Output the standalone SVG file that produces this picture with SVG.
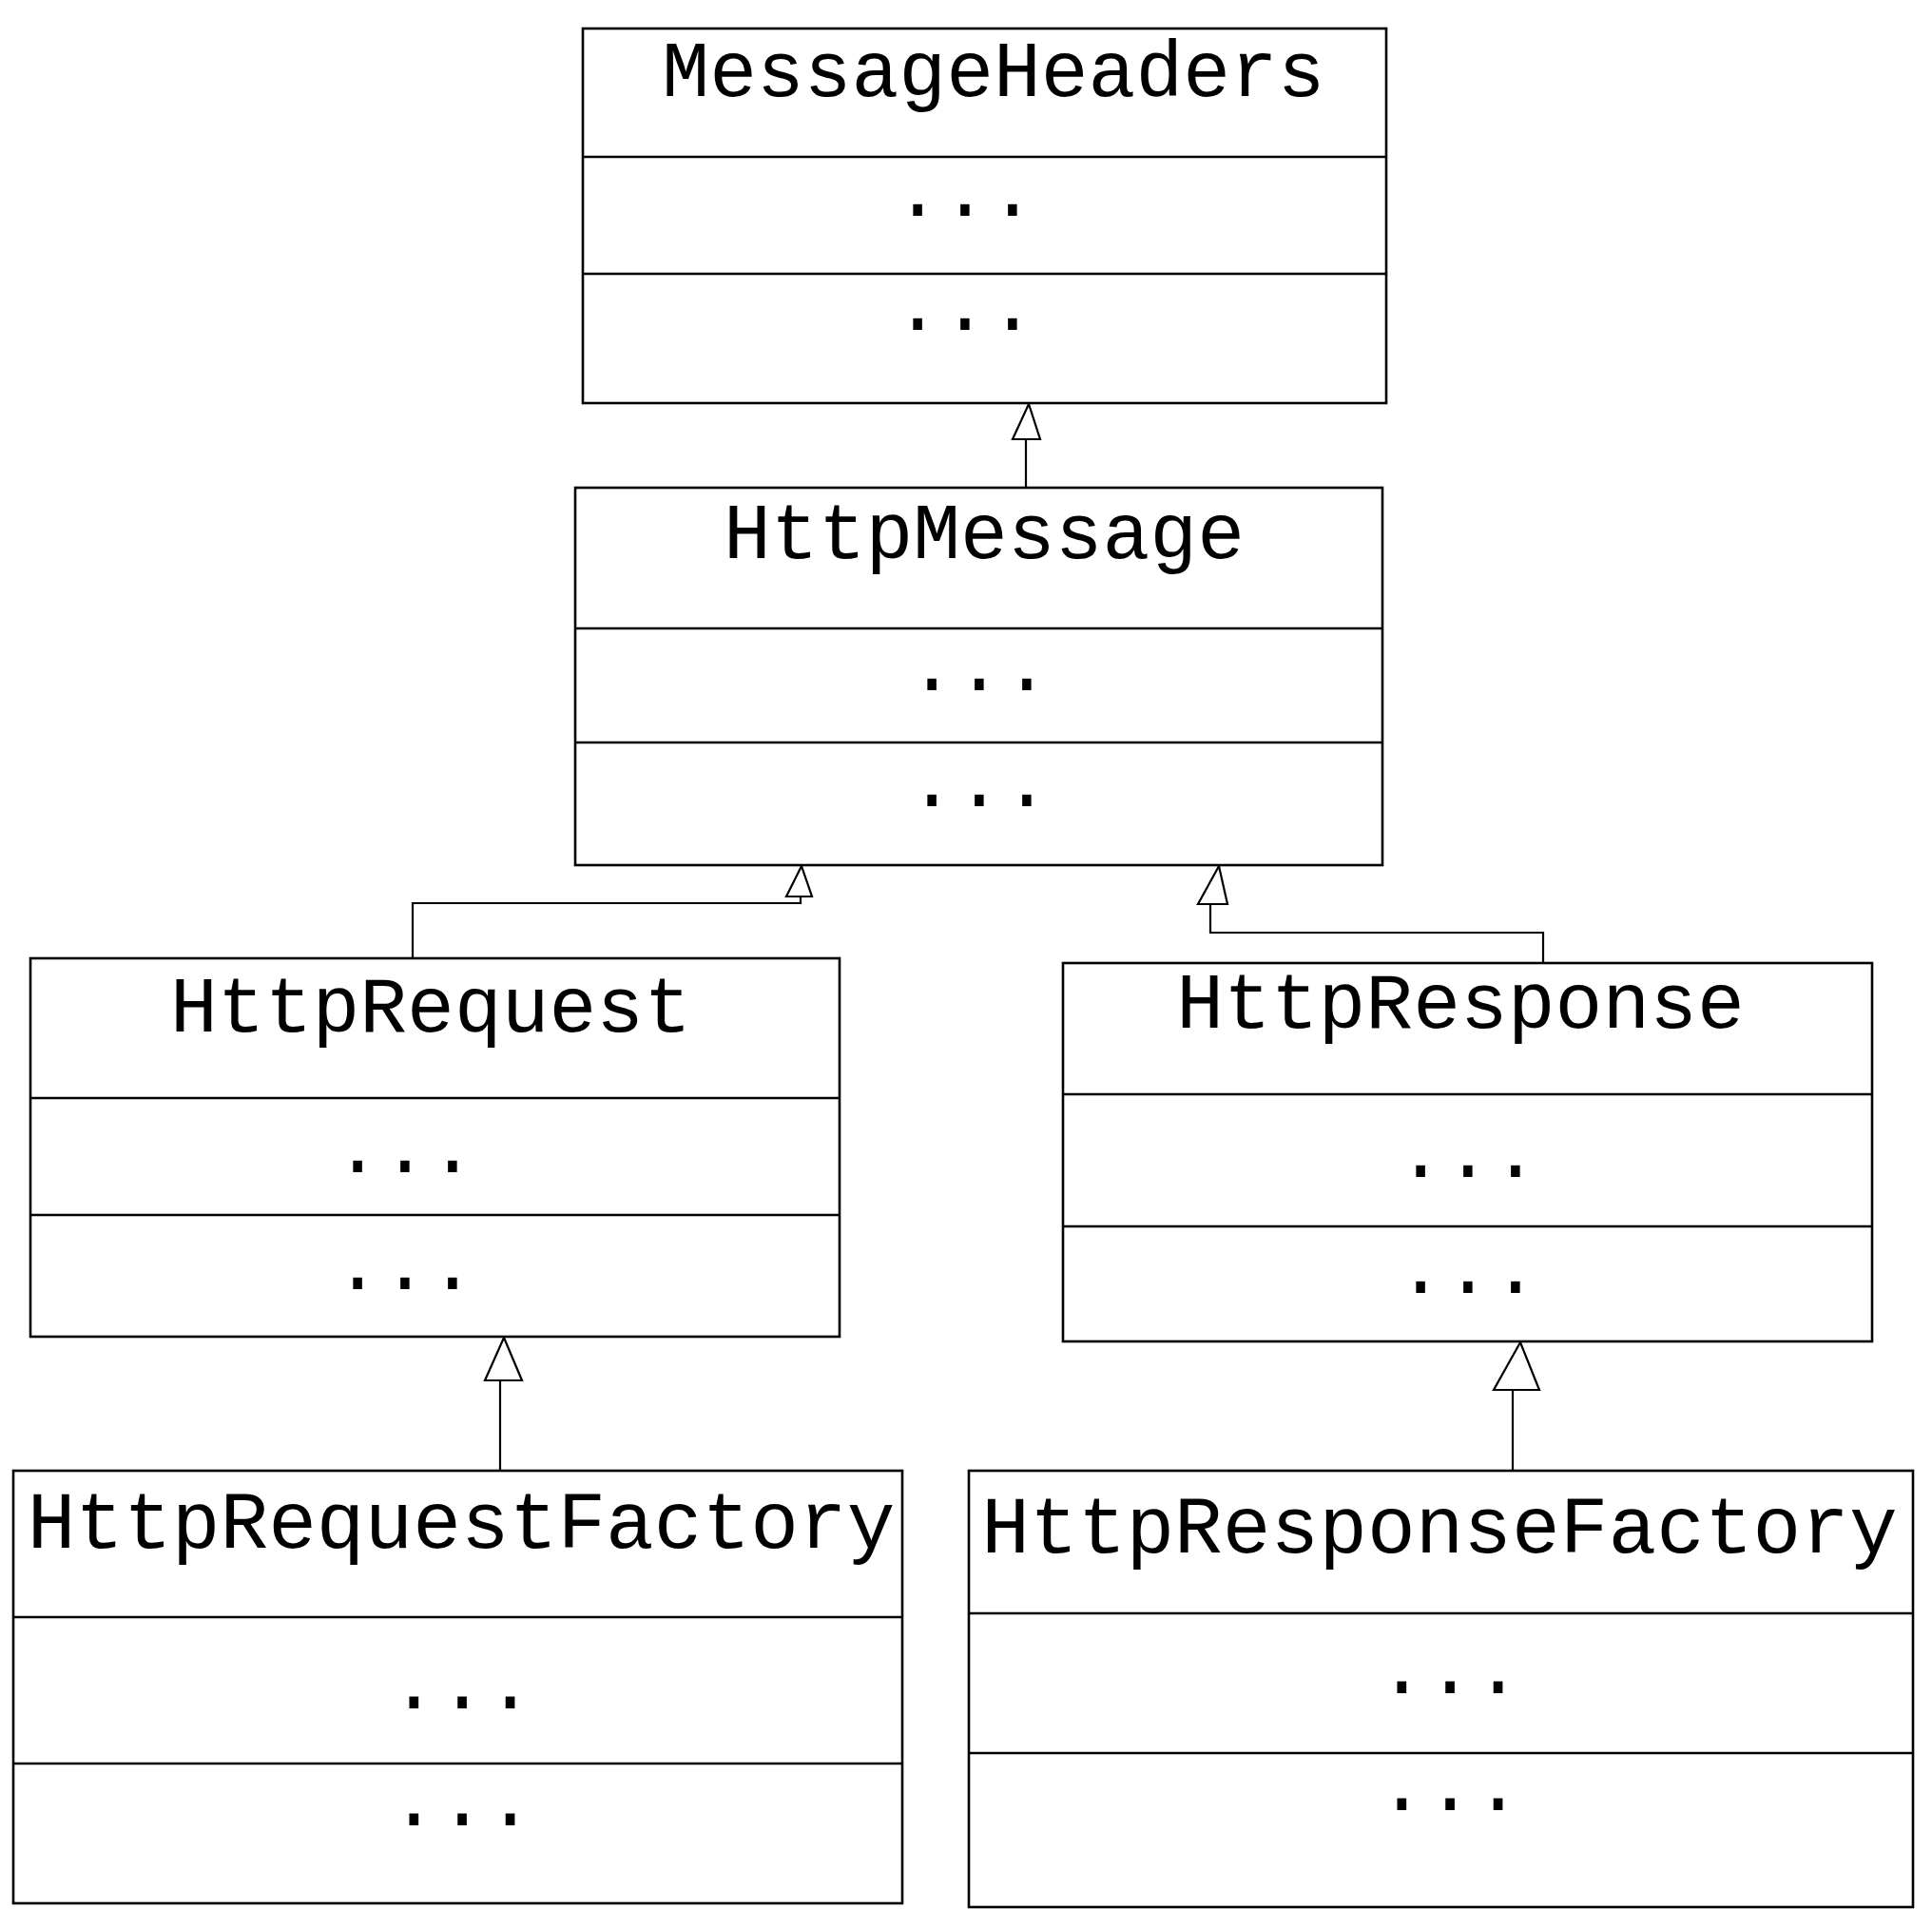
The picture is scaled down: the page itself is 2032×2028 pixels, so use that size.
<svg xmlns="http://www.w3.org/2000/svg" width="2032" height="2028" viewBox="0 0 2032 2028">
<style>
.box{fill:#fff;stroke:#000;stroke-width:2.6}
.div{stroke:#000;stroke-width:2.6}
.t{font-family:"Liberation Mono","Courier New",monospace;font-size:83px;fill:#000;text-anchor:middle}
.tf{font-size:84.5px}
.c{fill:none;stroke:#000;stroke-width:2.2}
.h{fill:#fff;stroke:#000;stroke-width:2.2;stroke-linejoin:miter}
</style>
<rect width="2032" height="2028" fill="#fff"/>
<g id="connectors">
<path class="c" d="M1079,513 V461"/>
<polygon class="h" points="1082,425 1094,462 1065,462"/>
<path class="c" d="M434,1008 V950 H842 V943"/>
<polygon class="h" points="843,911 854,943 827,943"/>
<path class="c" d="M1623,1016 V981 H1273 V951"/>
<polygon class="h" points="1282,911 1291,951 1260,951"/>
<path class="c" d="M526,1547 V1452"/>
<polygon class="h" points="530,1407 549,1452 510,1452"/>
<path class="c" d="M1591,1547 V1462"/>
<polygon class="h" points="1599,1412 1619,1462 1571,1462"/>
</g>
<g id="MessageHeaders">
<rect class="box" x="613" y="30" width="845" height="394"/>
<line class="div" x1="613" y1="165" x2="1458" y2="165"/>
<line class="div" x1="613" y1="288" x2="1458" y2="288"/>
<text class="t" x="1045" y="101">MessageHeaders</text>
<text class="t" x="1015" y="227">...</text>
<text class="t" x="1015" y="347">...</text>
</g>
<g id="HttpMessage">
<rect class="box" x="605" y="513" width="849" height="397"/>
<line class="div" x1="605" y1="661" x2="1454" y2="661"/>
<line class="div" x1="605" y1="781" x2="1454" y2="781"/>
<text class="t" x="1035" y="587">HttpMessage</text>
<text class="t" x="1030" y="726">...</text>
<text class="t" x="1030" y="848">...</text>
</g>
<g id="HttpRequest">
<rect class="box" x="32" y="1008" width="851" height="398"/>
<line class="div" x1="32" y1="1155" x2="883" y2="1155"/>
<line class="div" x1="32" y1="1278" x2="883" y2="1278"/>
<text class="t" x="453" y="1085">HttpRequest</text>
<text class="t" x="426" y="1233">...</text>
<text class="t" x="426" y="1356">...</text>
</g>
<g id="HttpResponse">
<rect class="box" x="1118" y="1013" width="851" height="398"/>
<line class="div" x1="1118" y1="1151" x2="1969" y2="1151"/>
<line class="div" x1="1118" y1="1290" x2="1969" y2="1290"/>
<text class="t" x="1536" y="1081">HttpResponse</text>
<text class="t" x="1544" y="1238">...</text>
<text class="t" x="1544" y="1360">...</text>
</g>
<g id="HttpRequestFactory">
<rect class="box" x="14" y="1547" width="935" height="455"/>
<line class="div" x1="14" y1="1701" x2="949" y2="1701"/>
<line class="div" x1="14" y1="1855" x2="949" y2="1855"/>
<text class="t tf" x="485" y="1628">HttpRequestFactory</text>
<text class="t tf" x="486" y="1797">...</text>
<text class="t tf" x="486" y="1920">...</text>
</g>
<g id="HttpResponseFactory">
<rect class="box" x="1019" y="1547" width="993" height="459"/>
<line class="div" x1="1019" y1="1697" x2="2012" y2="1697"/>
<line class="div" x1="1019" y1="1844" x2="2012" y2="1844"/>
<text class="t tf" x="1514" y="1633">HttpResponseFactory</text>
<text class="t tf" x="1525" y="1781">...</text>
<text class="t tf" x="1525" y="1904">...</text>
</g>
</svg>
